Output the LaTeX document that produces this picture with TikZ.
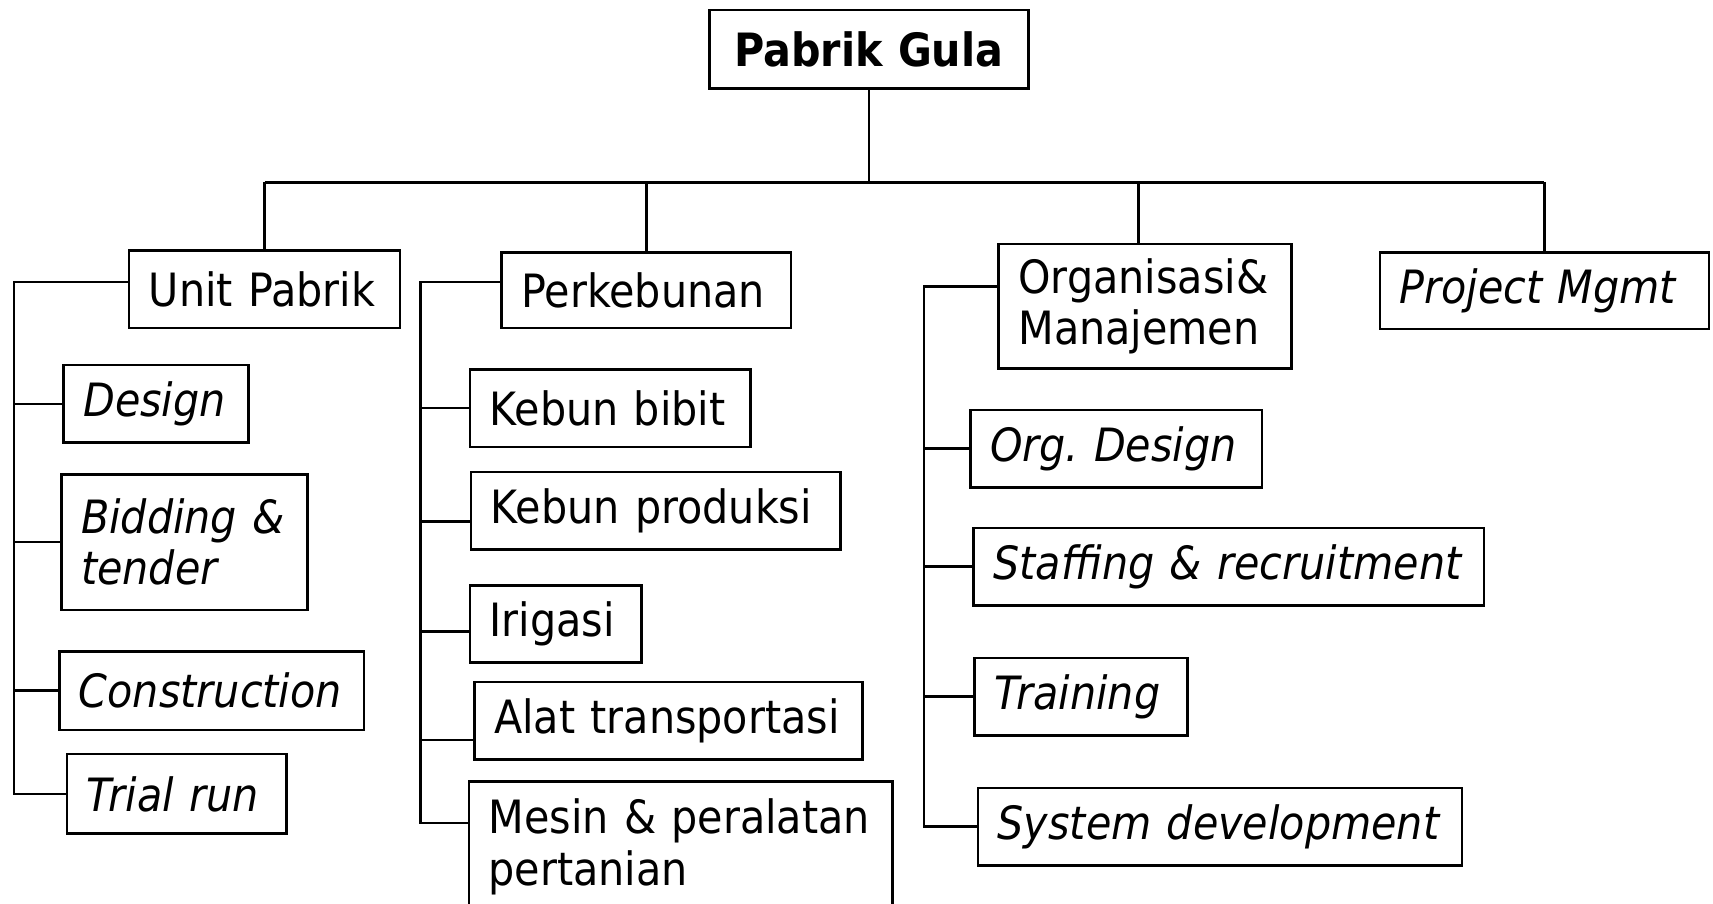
\documentclass[tikz,border=0pt]{standalone}
\usepackage{fontspec}
\setmainfont{DejaVu Sans}[FakeStretch=0.9, BoldFont={DejaVu Sans Bold}, ItalicFont={DejaVu Sans Oblique}]
\usepackage{tikz}

\begin{document}
\begin{tikzpicture}[x=0.5pt, y=-0.5pt,
    box/.style={draw, line width=1.2pt, anchor=north west, align=left, inner xsep=9pt, inner ysep=0pt, font=\fontsize{21}{23.5}\selectfont},
    ibox/.style={box, font=\fontsize{21}{23.5}\selectfont\itshape},
    link/.style={draw, line width=1.1pt}]
	\useasboundingbox (0,0) rectangle (1568,827);

	\node[box, align=center, text width=128pt, minimum height=36pt, font=\fontsize{21}{23.5}\selectfont\bfseries] (root) at (648,8) {Pabrik Gula};

	\node[box, text width=106pt, minimum height=35.5pt] (unit) at (117,228) {Unit Pabrik};
	\node[box, text width=114.5pt, minimum height=34.5pt] (kebun) at (458,230) {Perkebunan};
	\node[box, text width=116pt, minimum height=57pt] (org) at (913,222) {Organisasi\&\\Manajemen};
	\node[ibox, text width=132.5pt, minimum height=35pt] (pm) at (1262,230) {Project Mgmt};

	\node[ibox, text width=66.5pt, minimum height=35.5pt] (design) at (57,333) {Design};
	\node[ibox, text width=94.5pt, minimum height=62pt] (bidding) at (55,433) {Bidding \&\\tender};
	\node[ibox, text width=121.5pt, minimum height=36pt] (constr) at (53,595) {Construction};
	\node[ibox, text width=82.5pt, minimum height=36.5pt] (trial) at (60,689) {Trial run};

	\node[box, text width=110.5pt, minimum height=35.5pt] (bibit) at (429,337) {Kebun bibit};
	\node[box, text width=151pt, minimum height=35.5pt] (produksi) at (430,431) {Kebun produksi};
	\node[box, text width=60.5pt, minimum height=35pt] (irigasi) at (429,535) {Irigasi};
	\node[box, text width=159.5pt, minimum height=35.5pt] (transport) at (433,623) {Alat transportasi};
	\node[box, text width=176pt, minimum height=60pt] (mesin) at (428,714) {Mesin \& peralatan\\pertanian};

	\node[ibox, text width=115.5pt, minimum height=35.5pt] (orgdesign) at (887,374) {\mbox{Org.\ Design}};
	\node[ibox, text width=215.5pt, minimum height=35.5pt] (staffing) at (890,482) {Staffing \& recruitment};
	\node[ibox, text width=79.5pt, minimum height=35.5pt] (training) at (891,601) {Training};
	\node[ibox, text width=203.5pt, minimum height=35.5pt] (sysdev) at (894,720) {System development};

	\coordinate (bus) at (0,167);
	\coordinate (spA) at (13,0);
	\coordinate (spB) at (385,0);
	\coordinate (spC) at (846,0);

	\draw[link] (root.south) -- (root.south |- bus);
	\draw[link] (unit.north |- bus) -- (pm.north |- bus);
	\foreach \n/\s in {unit/0,kebun/0,org/-3,pm/0}
		\draw[link] ([xshift=\s pt]\n.north) coordinate (d) -- (d |- bus);

	\draw[link] ([yshift=3.25pt]unit.west) -| (trial.west -| spA) -- (trial.west);
	\foreach \n in {design,bidding,constr}
		\draw[link] (\n.west) -- (\n.west -| spA);

	\coordinate (mt) at ([yshift=11pt]mesin.west);
	\draw[link] ([yshift=3.75pt]kebun.west) -| (mt -| spB) -- (mt);
	\foreach \n/\s in {bibit/0,produksi/-4.75,irigasi/-3.5,transport/-8.75}
		\draw[link] ([yshift=\s pt]\n.west) coordinate (t) -- (t -| spB);

	\draw[link] ([yshift=9pt]org.west) -| (sysdev.west -| spC) -- (sysdev.west);
	\foreach \n in {orgdesign,staffing,training}
		\draw[link] (\n.west) -- (\n.west -| spC);
\end{tikzpicture}
\end{document}
